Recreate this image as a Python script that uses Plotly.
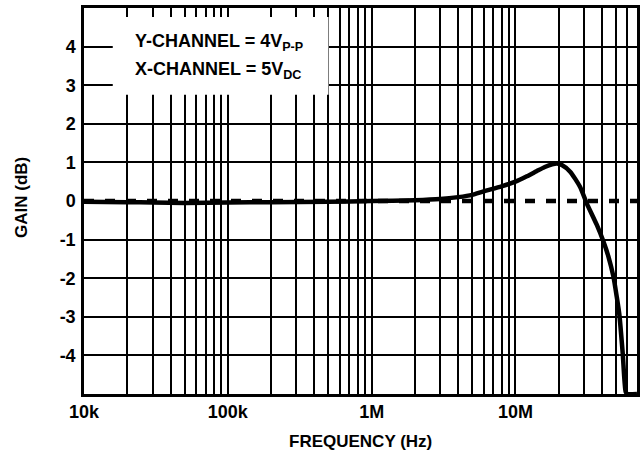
import math
import plotly.graph_objects as go

# ---- data ----
freq_hz = [1e4, 2e4, 3e4, 5e4, 1e5, 2e5, 5e5, 1e6, 2e6, 3e6, 4e6, 5e6, 6e6, 8e6,
           1e7, 1.2e7, 1.4e7, 1.6e7, 1.8e7, 1.95e7, 2.1e7, 2.4e7, 2.81e7, 3.13e7, 3.68e7,
           4.09e7, 4.43e7, 4.8e7, 5.06e7, 5.28e7, 5.57e7, 5.84e7, 6.0e7, 7.0e7]
gain_db = [-0.02, -0.03, -0.04, -0.05, -0.04, -0.03, -0.02, 0.0, 0.02, 0.05, 0.10, 0.16, 0.25, 0.38,
           0.50, 0.64, 0.77, 0.88, 0.95, 0.97, 0.93, 0.76, 0.37, -0.06, -0.62,
           -1.05, -1.44, -1.96, -2.48, -2.95, -3.95, -4.94, -5.0, -5.0]

ref_freq_hz = [1e4, 7e7]
ref_gain_db = [0.0, 0.0]

x_decades = [1e4, 1e5, 1e6, 1e7]
x_decade_labels = ["10k", "100k", "1M", "10M"]
x_max = 7e7
y_ticks = [-5, -4, -3, -2, -1, 0, 1, 2, 3, 4, 5]
y_tick_labels = ["", "-4", "-3", "-2", "-1", "0", "1", "2", "3", "4", ""]

note_lines = ["Y-CHANNEL = 4V<sub>P-P</sub>", "X-CHANNEL = 5V<sub>DC</sub>"]
x_title = "FREQUENCY (Hz)"
y_title = "GAIN (dB)"

# ---- grid tick positions (1..9 per decade) ----
x_tickvals, x_ticktext = [], []
for d, lab in zip(x_decades, x_decade_labels):
    for m in range(1, 10):
        v = d * m
        if v <= x_max * 1.0001:
            x_tickvals.append(v)
            x_ticktext.append(lab if m == 1 else "")

FONT = "Liberation Sans, Arial, Helvetica, sans-serif"

fig = go.Figure()
fig.add_trace(go.Scatter(x=ref_freq_hz, y=ref_gain_db, mode="lines",
                         line=dict(color="black", width=4.5, dash="10px,11px"),
                         hoverinfo="skip", showlegend=False))
fig.add_trace(go.Scatter(x=freq_hz, y=gain_db, mode="lines",
                         line=dict(color="black", width=4.5, shape="spline", smoothing=0.6),
                         showlegend=False))

# white box behind the note
fig.add_shape(type="rect", xref="x", yref="y", x0=10**4.20, x1=10**5.70, y0=2.75, y1=4.77,
              fillcolor="white", line=dict(width=0), layer="between")
fig.add_annotation(x=4.34, y=4.11, xref="x", yref="y", text=note_lines[0],
                   showarrow=False, xanchor="left", yanchor="middle",
                   font=dict(family=FONT, size=18, color="black", weight="bold"))
fig.add_annotation(x=4.34, y=3.38, xref="x", yref="y", text=note_lines[1],
                   showarrow=False, xanchor="left", yanchor="middle",
                   font=dict(family=FONT, size=18, color="black", weight="bold"))

# axis titles (placed relative to the plot area)
fig.add_annotation(x=0.5, y=-0.122, xref="paper", yref="paper", text=x_title, showarrow=False,
                   xanchor="center", yanchor="middle",
                   font=dict(family=FONT, size=17, color="black", weight="bold"))
fig.add_annotation(x=-0.112, y=0.508, xref="paper", yref="paper", text=y_title, showarrow=False,
                   textangle=-90, xanchor="center", yanchor="middle",
                   font=dict(family=FONT, size=17, color="black", weight="bold"))

fig.update_layout(
    width=644, height=460,
    margin=dict(l=84, r=7, t=8, b=66, autoexpand=False),
    paper_bgcolor="white", plot_bgcolor="white",
    font=dict(family=FONT, size=18, color="black", weight="bold"),
    showlegend=False,
)
fig.update_xaxes(type="log", range=[4, math.log10(x_max)], automargin=False,
                 tickmode="array", tickvals=x_tickvals, ticktext=x_ticktext,
                 showgrid=True, gridcolor="black", gridwidth=2,
                 showline=True, linecolor="black", linewidth=2.5, mirror=True,
                 ticks="", ticklabelstandoff=0, zeroline=False,
                 tickfont=dict(family=FONT, size=18, color="black", weight="bold"))
fig.update_yaxes(range=[-5, 5], automargin=False,
                 tickmode="array", tickvals=y_ticks, ticktext=y_tick_labels,
                 showgrid=True, gridcolor="black", gridwidth=2,
                 showline=True, linecolor="black", linewidth=2.5, mirror=True,
                 zeroline=True, zerolinecolor="rgba(0,0,0,0)", zerolinewidth=1,
                 ticks="", ticklabelstandoff=2,
                 tickfont=dict(family=FONT, size=18, color="black", weight="bold"))

# remove the browser's default page margin so the figure sits at the window's top-left
fig.write_html("out.html", config={"displayModeBar": False},
               post_script="document.body.style.margin='0';document.body.style.overflow='hidden';")
